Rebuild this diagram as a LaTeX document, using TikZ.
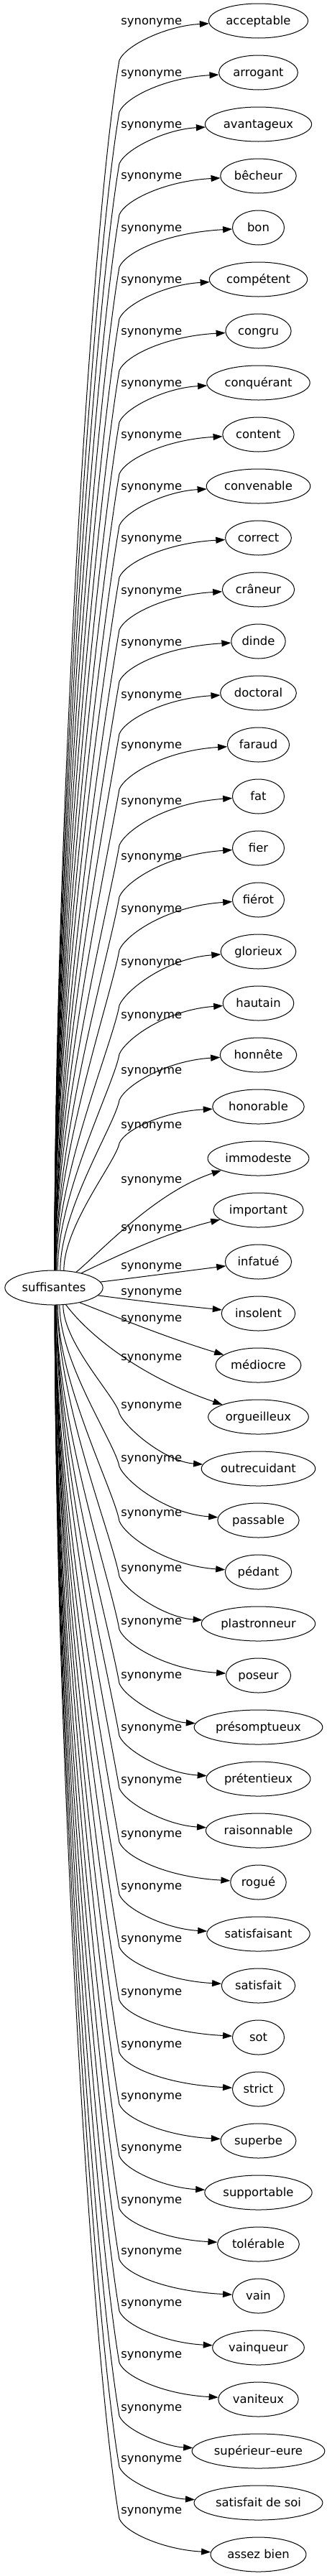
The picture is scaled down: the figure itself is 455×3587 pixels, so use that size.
\documentclass[tikz,border=0pt]{standalone}
\usepackage{fontspec}
\setmainfont{DejaVu Sans}
\usetikzlibrary{arrows.meta,calc,shapes.geometric}
\newcommand\UpEdge[4]{%
  \pgfmathsetmacro\eHH{1769-#3}%
  \pgfmathsetmacro\eAY{0.356*\eHH}%
  \pgfmathsetmacro\eBX{166-0.0237*\eHH}%
  \pgfmathsetmacro\eBY{#3+0.139*\eHH}%
  \pgfmathsetmacro\eCY{#3-20}%
  \pgfmathsetmacro\eDY{#2+0.13*(#3-#2)}%
  \draw[edge] (src.#4) .. controls ($(src.#4)+(0,-\eAY)$) and (\eBX,\eBY) .. (166,#3) .. controls (174,\eCY) and (229.5,\eDY) .. (#1);
}
\newcommand\DownEdge[4]{%
  \pgfmathsetmacro\eHH{#3-1817}%
  \pgfmathsetmacro\eAY{0.356*\eHH}%
  \pgfmathsetmacro\eBX{166-0.0237*\eHH}%
  \pgfmathsetmacro\eBY{#3-0.139*\eHH}%
  \pgfmathsetmacro\eCY{#3+20}%
  \pgfmathsetmacro\eDY{#2-0.13*(#2-#3)}%
  \draw[edge] (src.#4) .. controls ($(src.#4)+(0,\eAY)$) and (\eBX,\eBY) .. (166,#3) .. controls (174,\eCY) and (229.5,\eDY) .. (#1);
}
\begin{document}
\begin{tikzpicture}[x=1pt,y=-1pt,
  every node/.style={font=\fontsize{16.4pt}{19pt}\selectfont, text height=13.1pt, text depth=2.5pt},
  word/.style={ellipse, draw, line width=1pt, inner xsep=3.75pt, inner ysep=2pt, minimum width=72pt, minimum height=48pt},
  lbl/.style={inner sep=0pt},
  edge/.style={line width=1pt, -{Triangle[length=13pt,width=9pt]}}]
\useasboundingbox (0,0) rectangle (455,3587);

\node[word] (src) at (75,1793) {suffisantes};

\foreach \i/\t in {0/acceptable, 1/arrogant, 2/avantageux, 3/bêcheur, 4/bon, 5/compétent, 6/congru, 7/conquérant, 8/content, 9/convenable, 10/correct, 11/crâneur, 12/dinde, 13/doctoral, 14/faraud, 15/fat, 16/fier, 17/fiérot, 18/glorieux, 19/hautain, 20/honnête, 21/honorable, 22/immodeste, 23/important, 24/infatué, 25/insolent, 26/médiocre, 27/orgueilleux, 28/outrecuidant, 29/passable, 30/pédant, 31/plastronneur, 32/poseur, 33/présomptueux, 34/prétentieux, 35/raisonnable, 36/rogué, 37/satisfaisant, 38/satisfait, 39/sot, 40/strict, 41/superbe, 42/supportable, 43/tolérable, 44/vain, 45/vainqueur, 46/vaniteux, 47/supérieur–eure, 48/satisfait de soi, 49/assez bien}
  \node[word] (t\i) at (359.5,{29+72*\i}) {\t};

\foreach \i/\L in {0/29, 1/101, 2/173, 3/244, 4/317, 5/389, 6/461, 7/533, 8/605, 9/677, 10/749, 11/822, 12/894, 13/967, 14/1037, 15/1115, 16/1192, 17/1265, 18/1339, 19/1413, 20/1490, 21/1566, 22/1642, 23/1709, 24/1762, 25/1798, 26/1835, 27/1889, 28/1956, 29/2030, 30/2106, 31/2183, 32/2257, 33/2332, 34/2405, 35/2478, 36/2553, 37/2626, 38/2699, 39/2773, 40/2846, 41/2918, 42/2990, 43/3063, 44/3134, 45/3206, 46/3278, 47/3352, 48/3423, 49/3495}
  \node[lbl] (l\i) at (210.8,\L) {synonyme};

\foreach \i/\N/\w/\a in {0/29/84/88, 1/101/156/88, 2/173/228/88, 3/245/299/88, 4/317/372/88, 5/389/444/88, 6/461/516/88, 7/533/588/88, 8/605/660/88, 9/677/732/88, 10/749/804/88, 11/821/877/86, 12/893/949/86, 13/965/1022/86, 14/1037/1099/86, 15/1109/1177/86, 16/1181/1249/84, 17/1253/1323/84, 18/1325/1400/82, 19/1397/1468/78, 20/1469/1532/70, 21/1541/1592/60}
  \UpEdge{t\i}{\N}{\w}{\a};

\draw[edge] (src.35) .. controls (135,1748) and (215,1660) .. (t22);
\draw[edge] (src.28) .. controls (160,1750) and (230,1717) .. (t23);
\draw[edge] (src.7) .. controls (190,1779) and (250,1771) .. (t24);
\draw[edge] (src.-10) .. controls (190,1811) and (250,1818) .. (t25);
\draw[edge] (src.-30) .. controls (160,1833) and (230,1862) .. (t26);
\draw[edge] (src.-55) .. controls (120,1855) and (190,1915) .. (t27);

\foreach \i/\N/\w/\a in {28/2045/1968/-62, 29/2117/2042/-72, 30/2189/2118/-78, 31/2261/2195/-78, 32/2333/2269/-82, 33/2405/2344/-82, 34/2477/2417/-82, 35/2549/2490/-82, 36/2621/2565/-85, 37/2693/2638/-85, 38/2765/2711/-85, 39/2837/2785/-85, 40/2909/2858/-85, 41/2981/2930/-85, 42/3053/3002/-87, 43/3125/3075/-87, 44/3197/3146/-87, 45/3269/3218/-87, 46/3341/3290/-87, 47/3413/3364/-87, 48/3485/3435/-87, 49/3557/3507/-87}
  \DownEdge{t\i}{\N}{\w}{\a};
\end{tikzpicture}
\end{document}
